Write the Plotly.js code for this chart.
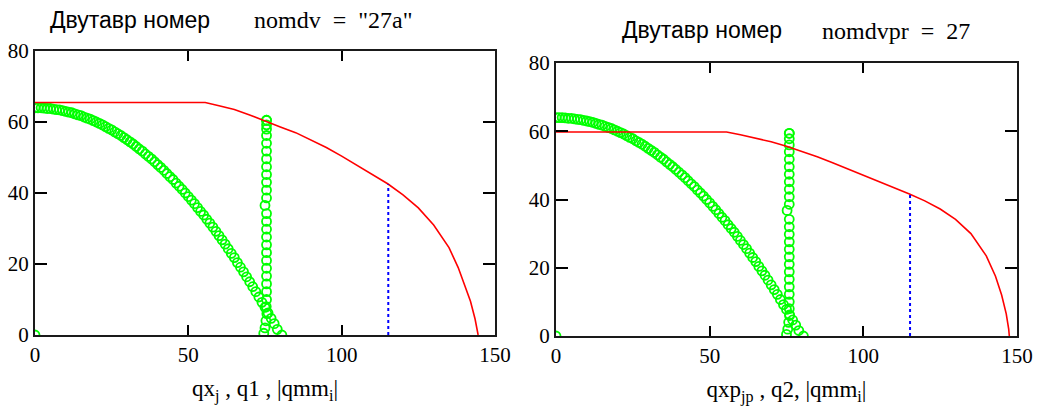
<!DOCTYPE html>
<html>
<head>
<meta charset="utf-8">
<script src="https://cdn.plot.ly/plotly-3.0.1.min.js"></script>
<style>
html,body{margin:0;padding:0;background:#fff;}
#chart{width:1047px;height:410px;}
</style>
</head>
<body>
<div id="chart"></div>
<script>
// Shared green curve |qmm_i|
const qmmX = [0,1,2,3,4,5,6,7,8,9,10,11,12,13,14,15,16,17,18,19,20,21,22,23,24,25,26,27,28,29,30,31,32,33,34,35,36,37,38,39,40,41,42,43,44,45,46,47,48,49,50,51,52,53,54,55,56,57,58,59,60,61,62,63,64,65,66,67,68,69,70,71,72,73,74,75,76,77,78,79,80.5];
const qmmY = [64.0,64.0,64.0,63.9,63.8,63.8,63.6,63.5,63.4,63.2,63.0,62.8,62.6,62.3,62.0,61.8,61.4,61.1,60.8,60.4,60.0,59.6,59.2,58.7,58.2,57.8,57.2,56.7,56.2,55.6,55.0,54.4,53.8,53.1,52.4,51.8,51.0,50.3,49.6,48.8,48.0,47.2,46.4,45.5,44.6,43.8,42.8,41.9,41.0,40.0,39.0,38.0,37.0,35.9,34.8,33.8,32.6,31.5,30.4,29.2,28.0,26.8,25.6,24.3,23.0,21.8,20.4,19.1,17.8,16.4,15.0,13.6,12.2,10.7,9.2,7.8,6.2,4.7,3.2,1.6,0.0];

// Left chart
const qxX = [0,74.6,75.0,75.3,75.6,75.4,75.5,75.5,75.5,75.5,75.5,75.5,75.5,75.5,75.5,75.5,75.5,75.5,75.0,75.5,75.5,75.5,75.5,75.5,75.5,75.5,75.5,75.5,75.5,75.5,75.5,75.5];
const qxY = [0,0.5,2.0,4.0,6.0,8.0,10.0,12.2,14.4,16.6,18.8,21.0,23.2,25.4,27.6,29.8,32.0,34.2,36.5,38.6,40.8,43.0,45.2,47.4,49.6,51.8,54.0,56.2,58.0,59.2,60.5,60.5];
const q1X = [0,55.5,60,65,70,75,80,85,90,95,100,105,110,115,120,125,130,135,138,140,142,143.5,144.3,144.5];
const q1Y = [65.5,65.5,64.6,63.5,62.0,60.2,58.6,57.0,55.0,52.8,50.4,47.8,45.2,42.6,39.5,35.8,31.0,24.6,19.0,14.5,9.5,4.5,1.2,0];
const lim1X = [115.2,115.2];
const lim1Y = [0,42.5];

// Right chart
const qxpX = [0,75.0,75.4,75.7,76.0,75.9,75.9,75.9,75.9,75.9,75.9,75.9,75.9,75.9,75.9,75.9,75.9,75.9,75.2,75.9,75.9,75.9,75.9,75.9,75.9,75.9,75.9,75.9,75.9,75.9,75.9];
const qxpY = [0,0.5,2.0,4.0,6.0,8.0,10.0,12.2,14.4,16.6,18.8,21.0,23.2,25.4,27.6,29.8,32.0,34.2,36.8,38.6,40.8,43.0,45.2,47.4,49.6,51.8,54.0,56.0,57.8,59.4,59.4];
const q2X = [0,55.5,60,65,70,75,80,85,90,95,100,105,110,115,120,125,130,135,140,143,145,146.5,147.3,147.5];
const q2Y = [59.8,59.8,59.0,58.0,56.9,55.6,54.1,52.5,50.8,49.0,47.1,45.3,43.4,41.6,39.6,37.2,34.2,30.0,23.5,17.5,12.0,6.5,2.0,0];
const lim2X = [115.2,115.2];
const lim2Y = [0,41.6];

const xTicks = [0,50,100,150];
const yTicks = [0,20,40,60,80];

const GREEN = '#00ff00', RED = '#ff0000', BLUE = '#0000ff';
const serif = 'Liberation Serif, Times New Roman, serif';
const sans = 'Liberation Sans, Arial, sans-serif';

function greenTrace(x, y, xa, ya) {
  return {x: x, y: y, xaxis: xa, yaxis: ya, type: 'scatter', mode: 'markers',
    marker: {symbol: 'circle-open', size: 9, color: GREEN, line: {width: 1.8, color: GREEN}},
    hoverinfo: 'skip', showlegend: false};
}
function lineTrace(x, y, xa, ya, color, dash, w) {
  return {x: x, y: y, xaxis: xa, yaxis: ya, type: 'scatter', mode: 'lines',
    line: {color: color, width: w, dash: dash}, hoverinfo: 'skip', showlegend: false};
}

const data = [
  greenTrace(qmmX, qmmY, 'x', 'y'),
  greenTrace(qxX, qxY, 'x', 'y'),
  lineTrace(q1X, q1Y, 'x', 'y', RED, 'solid', 1.6),
  lineTrace(lim1X, lim1Y, 'x', 'y', BLUE, 'dot', 2),
  greenTrace(qmmX, qmmY, 'x2', 'y2'),
  greenTrace(qxpX, qxpY, 'x2', 'y2'),
  lineTrace(q2X, q2Y, 'x2', 'y2', RED, 'solid', 1.6),
  lineTrace(lim2X, lim2Y, 'x2', 'y2', BLUE, 'dot', 2)
];

const W = 1047, H = 410;
function xAxis(l, r, titleText, anchor) {
  return {domain: [l / W, r / W], range: [0, 150], anchor: anchor,
    tickvals: xTicks, ticktext: xTicks.map(String),
    ticks: 'inside', ticklen: 10, tickwidth: 2, tickcolor: '#000',
    showline: true, linewidth: 2, linecolor: '#1a1a1a', mirror: 'ticks',
    showgrid: false, zeroline: false, fixedrange: true,
    tickfont: {family: serif, size: 21, color: '#000'},
    title: {text: titleText, font: {family: serif, size: 23, color: '#000'}, standoff: 14}};
}
function yAxis(b, t, anchor) {
  return {domain: [1 - b / H, 1 - t / H], range: [0, 80], anchor: anchor,
    tickvals: yTicks, ticktext: yTicks.map(String),
    ticks: 'inside', ticklen: 12, tickwidth: 2, tickcolor: '#000',
    showline: true, linewidth: 2, linecolor: '#1a1a1a', mirror: 'ticks',
    showgrid: false, zeroline: false, fixedrange: true,
    tickfont: {family: serif, size: 21, color: '#000'}};
}

const layout = {
  width: W, height: H,
  margin: {l: 0, r: 0, t: 0, b: 0},
  paper_bgcolor: '#fff', plot_bgcolor: '#fff',
  showlegend: false,
  xaxis: xAxis(35, 495, 'qx<sub>j</sub> , q1 , |qmm<sub>i</sub>|', 'y'),
  yaxis: yAxis(335, 51, 'x'),
  xaxis2: xAxis(556, 1017, 'qxp<sub>jp</sub> , q2, |qmm<sub>i</sub>|', 'y2'),
  yaxis2: yAxis(336, 63, 'x2'),
  annotations: [
    {xref: 'paper', yref: 'paper', x: 48 / W, y: 1 - 20 / H, xanchor: 'left', yanchor: 'middle', align: 'left', showarrow: false,
     text: 'Двутавр номер', font: {family: sans, size: 23, color: '#000'}},
    {xref: 'paper', yref: 'paper', x: 252 / W, y: 1 - 20 / H, xanchor: 'left', yanchor: 'middle', align: 'left', showarrow: false,
     text: 'nomdv&nbsp; = &nbsp;"27a"', font: {family: serif, size: 24, color: '#000'}},
    {xref: 'paper', yref: 'paper', x: 620 / W, y: 1 - 30 / H, xanchor: 'left', yanchor: 'middle', align: 'left', showarrow: false,
     text: 'Двутавр номер', font: {family: sans, size: 23, color: '#000'}},
    {xref: 'paper', yref: 'paper', x: 820 / W, y: 1 - 31 / H, xanchor: 'left', yanchor: 'middle', align: 'left', showarrow: false,
     text: 'nomdvpr&nbsp; = &nbsp;27', font: {family: serif, size: 24, color: '#000'}}
  ]
};

Plotly.newPlot('chart', data, layout, {displayModeBar: false, staticPlot: true});
</script>
</body>
</html>
